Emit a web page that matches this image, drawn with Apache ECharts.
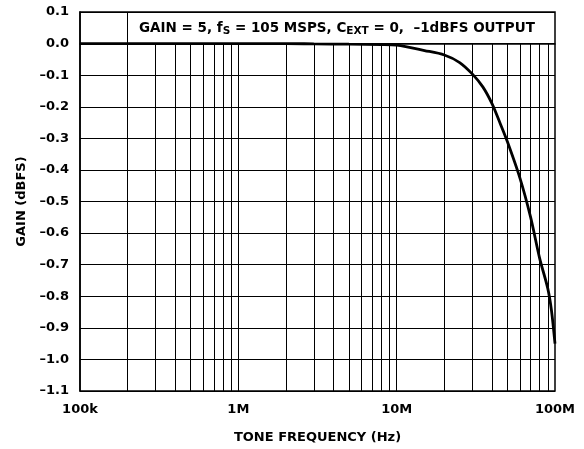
<!DOCTYPE html>
<html>
<head>
<meta charset="utf-8">
<script src="https://cdn.jsdelivr.net/npm/echarts@6/dist/echarts.min.js"></script>
<style>
  html, body { margin: 0; padding: 0; background: #fff; }
  #chart { width: 584px; height: 449px; }
</style>
</head>
<body>
<div id="chart"></div>
<script>
// tone frequency (Hz) vs gain (dBFS)
const freqHz = [1e5, 1e6, 2e6, 3e6, 5e6, 8e6, 1e7, 1.5e7, 2e7, 2.5e7, 3e7, 3.5e7, 4e7, 4.5e7, 5e7, 6e7, 7e7, 8e7, 9e7, 9.5e7, 1e8];
const gainDb = [0, 0, 0, -0.001, -0.002, -0.003, -0.005, -0.022, -0.036, -0.06, -0.096, -0.137, -0.19, -0.252, -0.31, -0.425, -0.548, -0.68, -0.775, -0.845, -0.95];

const xTickLabels = { 1e5: '100k', 1e6: '1M', 1e7: '10M', 1e8: '100M' };
const decades = [1e5, 1e6, 1e7];
const multipliers = [1, 2, 3, 4, 5, 6, 7, 8, 9];

const yMin = -1.1, yMax = 0.1;

// vertical grid lines (log decades); they stop at 0 dB under the note box,
// except the 200k line which is the box's left edge
const vLines = [];
decades.forEach(d => {
  multipliers.forEach(m => {
    const f = d * m;
    if (f === 1e5) return;
    const top = f === 2e5 ? yMax : 0;
    vLines.push([{ coord: [f, yMin] }, { coord: [f, top] }]);
  });
});

const chart = echarts.init(document.getElementById('chart'));

const font = '"DejaVu Sans", Arial, sans-serif';

const option = {
  backgroundColor: '#fff',
  animation: false,
  title: {
    text: '{a|GAIN = 5, f}{s|S}{a| = 105 MSPS, C}{s|EXT}{a| = 0,  \u20131dBFS OUTPUT}',
    left: 139,
    top: 19,
    padding: 0,
    textStyle: {
      rich: {
        a: { fontFamily: font, fontWeight: 'bold', fontSize: 13.5, color: '#000', lineHeight: 18, verticalAlign: 'middle' },
        s: { fontFamily: font, fontWeight: 'bold', fontSize: 10.5, color: '#000', lineHeight: 18, verticalAlign: 'bottom' }
      }
    }
  },
  grid: {
    left: 80,
    right: 29,
    top: 12,
    bottom: 58,
    show: true,
    borderColor: '#000',
    borderWidth: 1.5,
    backgroundColor: 'transparent'
  },
  xAxis: {
    type: 'log',
    logBase: 10,
    min: 1e5,
    max: 1e8,
    name: 'TONE FREQUENCY (Hz)',
    nameLocation: 'middle',
    nameGap: 40,
    nameTextStyle: { fontFamily: font, fontWeight: 'bold', fontSize: 13, color: '#000' },
    axisLine: { show: true, lineStyle: { color: '#000', width: 1.5 } },
    axisTick: { show: false },
    splitLine: { show: false },
    axisLabel: {
      margin: 12,
      fontFamily: font, fontWeight: 'bold', fontSize: 13, color: '#000',
      formatter: v => xTickLabels[Math.round(v)] || ''
    }
  },
  yAxis: {
    type: 'value',
    min: yMin,
    max: yMax,
    interval: 0.1,
    name: 'GAIN (dBFS)',
    nameLocation: 'middle',
    nameGap: 50,
    nameTextStyle: { fontFamily: font, fontWeight: 'bold', fontSize: 13, color: '#000' },
    axisLine: { show: true, lineStyle: { color: '#000', width: 1.5 } },
    axisTick: { show: false },
    splitLine: { show: true, lineStyle: { color: '#000', width: 1 } },
    axisLabel: {
      margin: 11,
      fontFamily: font, fontWeight: 'bold', fontSize: 13, color: '#000',
      formatter: v => {
        const s = (Math.abs(v) < 1e-9 ? 0 : v).toFixed(1);
        return s.replace('-', '\u2013');
      }
    }
  },
  series: [
    {
      type: 'line',
      data: [],
      silent: true,
      z: 1,
      markLine: {
        silent: true,
        symbol: 'none',
        label: { show: false },
        lineStyle: { color: '#000', width: 1, type: 'solid' },
        emphasis: { disabled: true },
        data: vLines
      }
    },
    {
      name: 'gain',
      type: 'line',
      data: freqHz.map((f, i) => [f, gainDb[i]]),
      showSymbol: false,
      smooth: 0.3,
      z: 5,
      lineStyle: { color: '#000', width: 2.8 }
    }
  ]
};

chart.setOption(option);
</script>
</body>
</html>
